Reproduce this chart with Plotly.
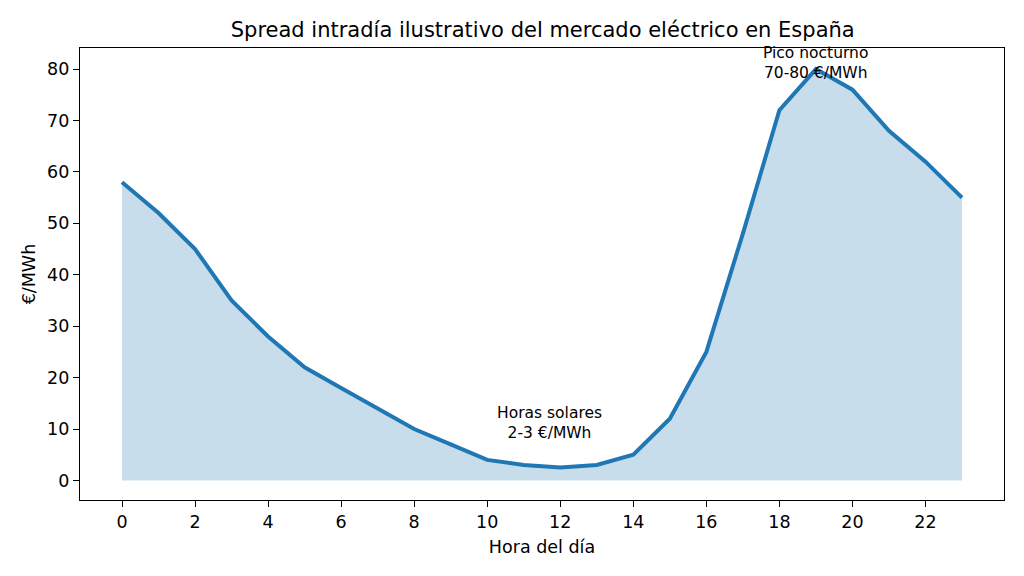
import plotly.graph_objects as go

hours = list(range(24))
prices = [58, 52, 45, 35, 28, 22, 18, 14, 10, 7, 4, 3, 2.5, 3, 5, 12, 25, 48, 72, 80, 76, 68, 62, 55]
x_ticks = list(range(0, 24, 2))
y_ticks = list(range(0, 90, 10))

title = "Spread intradía ilustrativo del mercado eléctrico en España"
x_title = "Hora del día"
y_title = "€/MWh"
ann_solar = "Horas solares<br>2-3 €/MWh"
ann_peak = "Pico nocturno<br>70-80 €/MWh"

font = "DejaVu Sans"
blue = "#1f77b4"

fig = go.Figure()
fig.add_trace(go.Scatter(
    x=hours, y=prices, mode="lines",
    line=dict(color=blue, width=4),
    fill="tozeroy", fillcolor="rgba(31,119,180,0.25)",
    showlegend=False, hoverinfo="skip",
))

fig.add_annotation(x=11.7, y=11.2, text=ann_solar, showarrow=False,
                   font=dict(family=font, size=15.5, color="black"), align="center")
fig.add_annotation(x=19, y=81.2, text=ann_peak, showarrow=False,
                   font=dict(family=font, size=15.5, color="black"), align="center")

axis_common = dict(
    showline=True, linecolor="black", linewidth=1.3, mirror=True,
    ticks="outside", ticklen=6, tickwidth=1.3, tickcolor="black",
    showgrid=False, zeroline=False,
    tickfont=dict(family=font, size=17.5, color="black"),
)

fig.update_layout(
    width=1024, height=576,
    margin=dict(l=80, r=20, t=48, b=76),
    paper_bgcolor="white", plot_bgcolor="white",
    title=dict(text=title, x=0.53, xanchor="center", y=0.948, yanchor="middle",
               font=dict(family=font, size=21, color="black")),
    xaxis=dict(range=[-1.15, 24.15], tickvals=x_ticks,
               title=dict(text=x_title, font=dict(family=font, size=17.5, color="black"), standoff=9),
               **axis_common),
    yaxis=dict(range=[-3.8, 84.1], tickvals=y_ticks,
               title=dict(text=y_title, font=dict(family=font, size=17.5, color="black"), standoff=6),
               **axis_common),
    font=dict(family=font),
)

fig.write_html("out.html")
